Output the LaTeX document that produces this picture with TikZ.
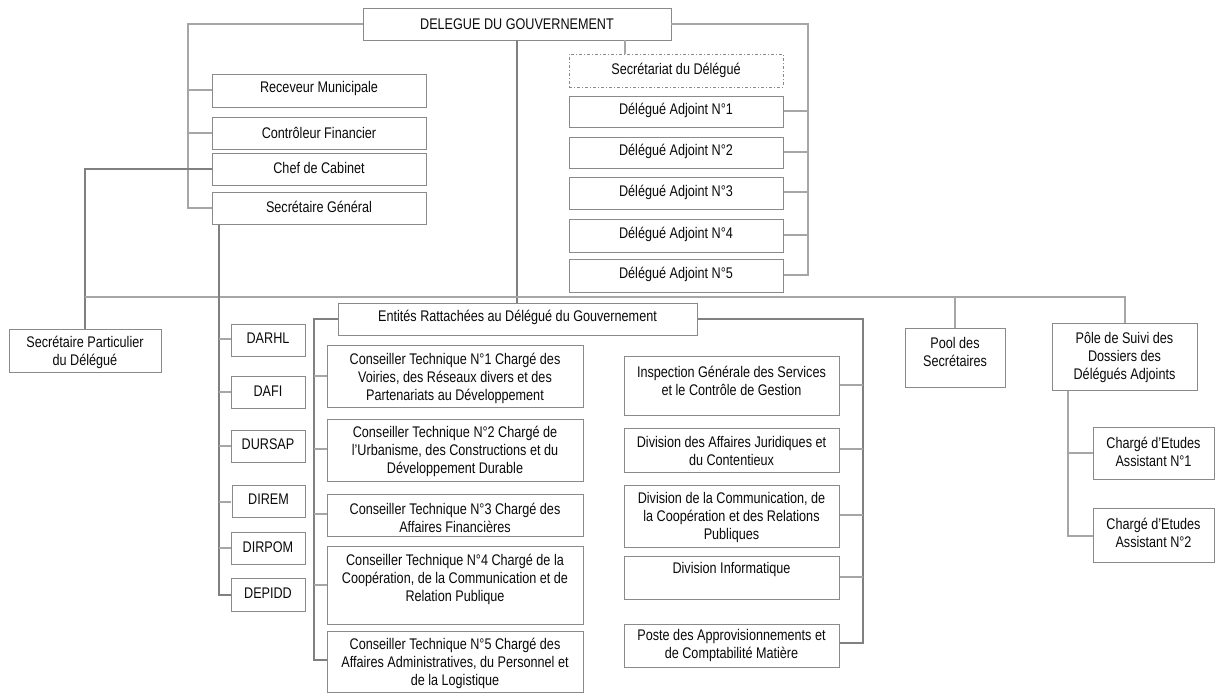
\documentclass[tikz,border=0pt]{standalone}
\usepackage{fontspec}
\setmainfont[FakeStretch=0.82]{Liberation Sans}
\definecolor{boxc}{HTML}{8A8A8A}
\definecolor{linec}{HTML}{A6A6A6}
\definecolor{lined}{HTML}{808080}
\definecolor{txtc}{HTML}{0A0A0A}
% name, left, top, right, bottom, dy (px down), text
\newcommand\obox[7]{%
  \node[box, minimum width={(#4-#2)*1pt}, minimum height={(#5-#3)*1pt}] (#1) at ({(#2+#4)/2},{(#3+#5)/2}) {};
  \node[txt] (#1-t) at ([yshift={-(#6)*1pt}]#1.center) {#7};
}
\newcommand\dbox[7]{%
  \node[box, dash pattern=on 3pt off 2pt on 1pt off 2pt, minimum width={(#4-#2)*1pt}, minimum height={(#5-#3)*1pt}] (#1) at ({(#2+#4)/2},{(#3+#5)/2}) {};
  \node[txt] (#1-t) at ([yshift={-(#6)*1pt}]#1.center) {#7};
}
\tikzset{
  box/.style={draw=boxc, line width=0.9pt, inner sep=0pt, fill=white},
  txt/.style={inner sep=0pt, align=center, text=txtc, font=\fontsize{15.4}{18}\selectfont},
  conn/.style={draw=linec, line width=1.3pt},
  connd/.style={draw=lined, line width=1.5pt},
}
\begin{document}
\begin{tikzpicture}[x=1pt,y=-1pt]
\useasboundingbox (0,0) rectangle (1215,693);
% coordinates for connector rails
\coordinate (lx) at (188,0);
\coordinate (rx) at (808,0);
\coordinate (sgx) at (219,0);
\coordinate (elx) at (314,0);
\coordinate (erx) at (863,0);
\coordinate (secx) at (625,0);
\coordinate (px) at (1068,0);

% top box
\obox{dg}{363}{8}{671}{40}{0}{DELEGUE DU GOUVERNEMENT}
% connectors (boxes drawn on top)
\draw[conn] (dg.west) -- (lx |- dg.west) -- (lx |- 0,208) -- (212,208);
\draw[conn] (lx |- 0,90) -- (212,90);
\draw[conn] (lx |- 0,133) -- (212,133);
\draw[conn] (dg.east) -- (rx |- dg.east) -- (rx |- 0,275) -- (783,275);
\foreach \yy in {111,152,192,235}{\draw[conn] (rx |- 0,\yy) -- (783,\yy);}
\draw[conn] (secx |- dg.south) -- (625,54);
\draw[connd, line width=1.1pt] (dg.south) -- (517,303);
% chef de cabinet to secretaire particulier
\draw[connd, line width=1.2pt] (212,169) -- (85,169) -- (85,329);
% main horizontal
\draw[conn] (85,297) -- (1125,297) -- (1125,323);
\draw[conn] (955,297) -- (955,328);
% SG rail
\draw[connd] (sgx |- 0,224) -- (219,595) -- (231,595);
\foreach \yy in {339,392,446,502,548}{\draw[conn] (sgx |- 0,\yy) -- (231,\yy);}
% entites rails
\draw[connd] (338,319) -- (elx |- 0,319) -- (314,660) -- (327,660);
\foreach \yy in {376,449,514,585}{\draw[conn] (elx |- 0,\yy) -- (327,\yy);}
\draw[connd, line width=1.2pt] (697,319) -- (erx |- 0,319) -- (863,643) -- (839,643);
\foreach \yy in {385,449,515,577}{\draw[conn] (erx |- 0,\yy) -- (839,\yy);}
% pole rail
\draw[conn] (px |- 0,390) -- (1068,536) -- (1093,536);
\draw[conn] (px |- 0,453) -- (1093,453);

% boxes
\obox{rm}{212}{74}{426}{107}{-1.5}{Receveur Municipale}
\obox{cf}{212}{117}{426}{149}{-0.5}{Contrôleur Financier}
\obox{cc}{212}{153}{426}{185}{-1.5}{Chef de Cabinet}
\obox{sg}{212}{192}{426}{224}{-1.5}{Secrétaire Général}
\dbox{sec}{569}{54}{783}{87}{-0.5}{Secrétariat du Délégué}
\obox{da1}{569}{96}{783}{127}{-1}{Délégué Adjoint N°1}
\obox{da2}{569}{137}{783}{168}{-1}{Délégué Adjoint N°2}
\obox{da3}{569}{177}{783}{209}{-1}{Délégué Adjoint N°3}
\obox{da4}{569}{219}{783}{252}{-1.5}{Délégué Adjoint N°4}
\obox{da5}{569}{259}{783}{292}{-1.5}{Délégué Adjoint N°5}
\obox{sp}{9}{329}{161}{372}{1.5}{Secrétaire Particulier\\du Délégué}
\obox{darhl}{231}{324}{305}{356}{-1.5}{DARHL}
\obox{dafi}{231}{376}{305}{408}{-0.5}{DAFI}
\obox{dursap}{231}{430}{305}{462}{-1.5}{DURSAP}
\obox{direm}{232}{485}{305}{517}{-1.5}{DIREM}
\obox{dirpom}{231}{532}{305}{564}{-0.5}{DIRPOM}
\obox{depidd}{231}{578}{305}{611}{-1}{DEPIDD}
\obox{ent}{338}{303}{697}{335}{-1.5}{Entités Rattachées au Délégué du Gouvernement}
\obox{ct1}{327}{345}{583}{407}{2}{Conseiller Technique N°1 Chargé des\\Voiries, des Réseaux divers et des\\Partenariats au Développement}
\obox{ct2}{327}{419}{583}{481}{1}{Conseiller Technique N°2 Chargé de\\l’Urbanisme, des Constructions et du\\Développement Durable}
\obox{ct3}{327}{494}{583}{536}{2.5}{Conseiller Technique N°3 Chargé des\\Affaires Financières}
\obox{ct4}{327}{546}{583}{624}{-6}{Conseiller Technique N°4 Chargé de la\\Coopération, de la Communication et de\\Relation Publique}
\obox{ct5}{327}{631}{583}{692}{1.5}{Conseiller Technique N°5 Chargé des\\Affaires Administratives, du Personnel et\\de la Logistique}
\obox{insp}{624}{356}{839}{415}{-4.5}{Inspection Générale des Services\\et le Contrôle de Gestion}
\obox{dj}{624}{428}{839}{472}{0.5}{Division des Affaires Juridiques et\\du Contentieux}
\obox{dc}{624}{485}{839}{547}{2}{Division de la Communication, de\\la Coopération et des Relations\\Publiques}
\obox{di}{624}{556}{839}{599}{-8}{Division Informatique}
\obox{pa}{624}{624}{839}{667}{0.5}{Poste des Approvisionnements et\\de Comptabilité Matière}
\obox{pool}{905}{328}{1005}{387}{-6}{Pool des\\Secrétaires}
\obox{pole}{1052}{323}{1197}{390}{0.5}{Pôle de Suivi des\\Dossiers des\\Délégués Adjoints}
\obox{ce1}{1093}{427}{1214}{479}{-1.5}{Chargé d’Etudes\\Assistant N°1}
\obox{ce2}{1093}{508}{1214}{562}{-2.5}{Chargé d’Etudes\\Assistant N°2}
\end{tikzpicture}
\end{document}
